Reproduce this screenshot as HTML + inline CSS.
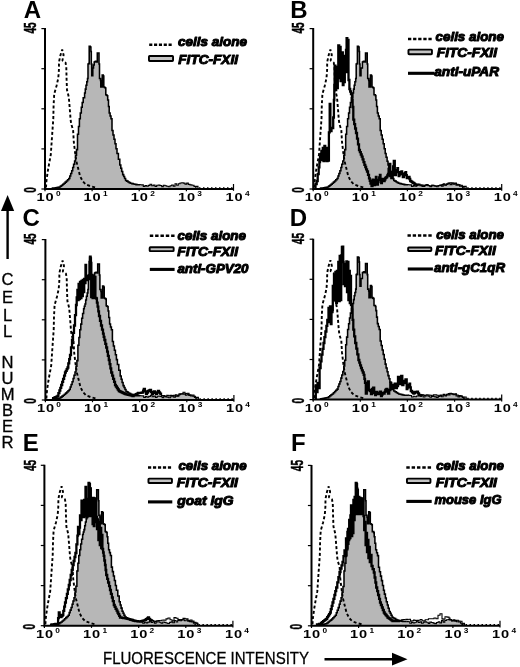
<!DOCTYPE html>
<html lang="en"><head><meta charset="utf-8"><title>Flow cytometry histograms of FITC-FXII binding</title>
<style>
html,body{margin:0;padding:0;background:#fff;}
body{width:520px;height:667px;overflow:hidden;}
svg{display:block;}
text{font-family:"Liberation Sans", sans-serif;fill:#000;}
.leg{font-weight:bold;font-style:italic;font-size:12.8px;stroke:#000;stroke-width:1.0px;stroke-linejoin:round;}
.pl{font-weight:bold;font-size:24px;}
.tk{font-weight:bold;font-size:10.3px;letter-spacing:0.6px;}
.ex{font-weight:bold;font-size:6.4px;}
.yl{font-weight:bold;font-size:16px;stroke:#000;stroke-width:0.5px;}
.ax{font-size:16.6px;stroke:#000;stroke-width:0.3px;}
.thin{fill:none;stroke:#000;stroke-width:1.55;stroke-linejoin:miter;}
.thick{fill:none;stroke:#000;stroke-width:2.3;stroke-linejoin:miter;}
.tail{fill:none;stroke:#000;stroke-width:1.1;}
.dash{fill:none;stroke:#000;stroke-width:1.9;stroke-dasharray:3 2.3;stroke-linejoin:bevel;}
.axis{fill:none;stroke:#000;stroke-width:2;}
.tick{fill:none;stroke:#000;stroke-width:1.2;}
</style></head><body>
<svg width="520" height="667" viewBox="0 0 520 667">
<rect x="0" y="0" width="520" height="667" fill="#ffffff"/>
<g id="panel-A">
<polygon points="51.5,189.0 51.5,188.3 52.8,188.3 52.8,188.1 54.1,188.1 54.1,187.9 55.4,187.9 55.4,187.7 56.6,187.7 56.6,187.4 57.9,187.4 57.9,187.2 59.2,187.2 59.2,187.0 60.4,187.0 60.4,186.1 61.6,186.1 61.6,185.2 62.8,185.2 62.8,184.2 64.0,184.2 64.0,183.3 65.2,183.3 65.2,182.1 66.4,182.1 66.4,180.9 67.6,180.9 67.6,179.7 68.8,179.7 68.8,178.5 69.8,178.5 69.8,175.9 70.7,175.9 70.7,173.4 71.7,173.4 71.7,170.8 72.7,170.8 72.7,167.5 73.6,167.5 73.6,164.3 74.6,164.3 74.6,161.0 75.5,161.0 75.5,155.3 76.5,155.3 76.5,149.6 77.5,149.6 77.5,134.2 78.5,134.2 78.5,126.5 79.4,126.5 79.4,118.8 80.3,118.8 80.3,113.0 81.3,113.0 81.3,107.3 82.2,107.3 82.2,102.5 83.2,102.5 83.2,97.7 84.6,97.7 84.6,92.9 85.3,92.9 85.3,89.1 86.0,89.1 86.0,85.2 86.8,85.2 86.8,81.8 87.5,81.8 87.5,78.5 88.0,78.5 88.0,64.0 88.8,64.0 88.8,63.5 89.2,63.5 89.2,46.3 90.2,46.3 90.2,47.0 90.9,47.0 90.9,51.5 91.3,51.5 91.3,64.0 91.8,64.0 91.8,75.6 92.4,75.6 92.4,75.6 92.8,75.6 92.8,67.9 93.5,67.9 93.5,65.0 94.2,65.0 94.2,62.0 95.0,62.0 95.0,61.6 95.7,61.6 95.7,61.2 96.8,61.2 96.8,62.0 97.3,62.0 97.3,53.0 98.3,53.0 98.3,53.0 99.0,53.0 99.0,64.0 99.5,64.0 99.5,78.5 100.5,78.5 100.5,80.4 100.8,80.4 100.8,87.0 101.6,87.0 101.6,87.0 102.2,87.0 102.2,75.0 103.2,75.0 103.2,76.0 103.8,76.0 103.8,87.0 104.5,87.0 104.5,87.5 105.3,87.5 105.3,88.0 105.8,88.0 105.8,94.8 106.5,94.8 106.5,95.3 107.2,95.3 107.2,95.8 107.7,95.8 107.7,100.0 108.5,100.0 108.5,106.5 109.2,106.5 109.2,113.0 110.1,113.0 110.1,115.9 111.0,115.9 111.0,118.8 112.0,118.8 112.0,130.4 113.0,130.4 113.0,134.9 114.0,134.9 114.0,139.3 115.0,139.3 115.0,143.8 116.0,143.8 116.0,148.7 117.0,148.7 117.0,153.5 118.4,153.5 118.4,159.2 119.8,159.2 119.8,165.0 120.8,165.0 120.8,168.2 121.7,168.2 121.7,171.4 122.7,171.4 122.7,174.6 123.7,174.6 123.7,176.5 124.6,176.5 124.6,178.5 125.6,178.5 125.6,180.4 126.8,180.4 126.8,181.1 128.0,181.1 128.0,181.9 129.2,181.9 129.2,182.6 130.4,182.6 130.4,183.3 131.8,183.3 131.8,183.6 133.2,183.6 133.2,183.9 134.6,183.9 134.6,184.3 136.0,184.3 136.0,184.6 137.3,184.6 137.3,184.7 138.7,184.7 138.7,184.7 140.0,184.7 140.0,184.8 141.7,184.8 141.7,184.9 143.3,184.9 143.3,186.4 145.0,186.4 145.0,185.6 146.7,185.6 146.7,186.2 148.3,186.2 148.3,185.4 150.0,185.4 150.0,184.3 151.7,184.3 151.7,185.7 153.3,185.7 153.3,185.1 155.0,185.1 155.0,186.4 156.7,186.4 156.7,185.3 158.3,185.3 158.3,185.1 160.0,185.1 160.0,185.5 161.7,185.5 161.7,186.6 163.3,186.6 163.3,185.3 165.0,185.3 165.0,185.7 166.7,185.7 166.7,186.3 168.3,186.3 168.3,186.8 170.0,186.8 170.0,185.7 171.7,185.7 171.7,185.0 173.3,185.0 173.3,186.1 175.0,186.1 175.0,183.8 176.7,183.8 176.7,185.3 178.3,185.3 178.3,183.7 180.0,183.7 180.0,183.0 181.7,183.0 181.7,182.8 183.3,182.8 183.3,183.1 185.0,183.1 185.0,184.1 186.7,184.1 186.7,183.1 188.3,183.1 188.3,184.4 190.0,184.4 190.0,184.9 192.0,184.9 192.0,185.2 194.0,185.2 194.0,186.4 196.0,186.4 196.0,186.4 198.0,186.4 198.0,188.5 198.0,189.0" fill="#b7b7b7" stroke="none"/>
<path class="thin" d="M51.5 188.3 H52.8 V188.1 H54.1 V187.9 H55.4 V187.7 H56.6 V187.4 H57.9 V187.2 H59.2 V187.0 H60.4 V186.1 H61.6 V185.2 H62.8 V184.2 H64.0 V183.3 H65.2 V182.1 H66.4 V180.9 H67.6 V179.7 H68.8 V178.5 H69.8 V175.9 H70.7 V173.4 H71.7 V170.8 H72.7 V167.5 H73.6 V164.3 H74.6 V161.0 H75.5 V155.3 H76.5 V149.6 H77.5 V134.2 H78.5 V126.5 H79.4 V118.8 H80.3 V113.0 H81.3 V107.3 H82.2 V102.5 H83.2 V97.7 H84.6 V92.9 H85.3 V89.1 H86.0 V85.2 H86.8 V81.8 H87.5 V78.5 H88.0 V64.0 H88.8 V63.5 H89.2 V46.3 H90.2 V47.0 H90.9 V51.5 H91.3 V64.0 H91.8 V75.6 H92.4 V75.6 H92.8 V67.9 H93.5 V65.0 H94.2 V62.0 H95.0 V61.6 H95.7 V61.2 H96.8 V62.0 H97.3 V53.0 H98.3 V53.0 H99.0 V64.0 H99.5 V78.5 H100.5 V80.4 H100.8 V87.0 H101.6 V87.0 H102.2 V75.0 H103.2 V76.0 H103.8 V87.0 H104.5 V87.5 H105.3 V88.0 H105.8 V94.8 H106.5 V95.3 H107.2 V95.8 H107.7 V100.0 H108.5 V106.5 H109.2 V113.0 H110.1 V115.9 H111.0 V118.8 H112.0 V130.4 H113.0 V134.9 H114.0 V139.3 H115.0 V143.8 H116.0 V148.7 H117.0 V153.5 H118.4 V159.2 H119.8 V165.0 H120.8 V168.2 H121.7 V171.4 H122.7 V174.6 H123.7 V176.5 H124.6 V178.5 H125.6 V180.4 H126.8 V181.1 H128.0 V181.9 H129.2 V182.6 H130.4 V183.3 H131.8 V183.6 H133.2 V183.9 H134.6 V184.3 H136.0 V184.6 H137.3 V184.7 H138.7 V184.7 H140.0 V184.8"/>
<path class="tail" d="M140.0 184.8 H141.7 V184.9 H143.3 V186.4 H145.0 V185.6 H146.7 V186.2 H148.3 V185.4 H150.0 V184.3 H151.7 V185.7 H153.3 V185.1 H155.0 V186.4 H156.7 V185.3 H158.3 V185.1 H160.0 V185.5 H161.7 V186.6 H163.3 V185.3 H165.0 V185.7 H166.7 V186.3 H168.3 V186.8 H170.0 V185.7 H171.7 V185.0 H173.3 V186.1 H175.0 V183.8 H176.7 V185.3 H178.3 V183.7 H180.0 V183.0 H181.7 V182.8 H183.3 V183.1 H185.0 V184.1 H186.7 V183.1 H188.3 V184.4 H190.0 V184.9 H192.0 V185.2 H194.0 V186.4 H196.0 V186.4 H198.0 V188.5"/>
<polyline class="dash" points="46.0,187.5 46.4,181.3 47.6,172.4 48.9,164.8 50.8,154.6 52.1,135.5 53.3,118.8 53.6,105.4 54.2,94.0 56.5,86.0 58.3,78.0 58.9,70.0 59.0,62.0 60.5,55.0 62.2,49.6 63.6,55.0 62.4,60.5 65.5,62.5 66.3,67.0 66.6,80.0 67.0,90.0 68.8,97.0 69.7,108.0 70.6,119.5 71.2,124.0 73.1,130.0 73.8,141.8 75.0,152.0 76.3,161.0 78.2,168.6 80.1,176.2 82.7,181.3 85.9,184.5 91.0,186.4 96.0,187.7"/>
<path class="axis" d="M45.0 28.1 V189.0 H233.5"/>
<path d="M195.0 188.0 H233.5" stroke="#000" stroke-width="1.6" stroke-dasharray="1.5 2.5" fill="none"/>
<path class="tick" d="M41.4 28.6 H45.0"/>
<path class="tick" d="M41.4 68.7 H45.0"/>
<path class="tick" d="M41.4 108.8 H45.0"/>
<path class="tick" d="M41.4 148.9 H45.0"/>
<path class="tick" d="M41.4 189.0 H45.0"/>
<path class="tick" d="M45.0 189.0 V191.2"/>
<path class="tick" d="M92.1 189.0 V191.2"/>
<path class="tick" d="M139.2 189.0 V191.2"/>
<path class="tick" d="M186.4 189.0 V191.2"/>
<path class="tick" d="M233.5 184.0 V190.8"/>
<text class="tk" transform="translate(45.5 201.0) scale(1.42 1)" text-anchor="middle">10</text>
<text class="ex" transform="translate(55.9 196.3) scale(1.3 1)">0</text>
<text class="tk" transform="translate(92.6 201.0) scale(1.42 1)" text-anchor="middle">10</text>
<text class="ex" transform="translate(103.0 196.3) scale(1.3 1)">1</text>
<text class="tk" transform="translate(139.8 201.0) scale(1.42 1)" text-anchor="middle">10</text>
<text class="ex" transform="translate(150.2 196.3) scale(1.3 1)">2</text>
<text class="tk" transform="translate(186.9 201.0) scale(1.42 1)" text-anchor="middle">10</text>
<text class="ex" transform="translate(197.3 196.3) scale(1.3 1)">3</text>
<text class="tk" transform="translate(234.5 201.0) scale(1.42 1)" text-anchor="middle">10</text>
<text class="ex" transform="translate(244.9 196.3) scale(1.3 1)">4</text>
<text class="yl" transform="translate(35.7 28.0) rotate(-90) scale(0.63 1)" text-anchor="middle">45</text>
<text class="yl" transform="translate(35.7 190.0) rotate(-90) scale(0.63 1)" text-anchor="middle">0</text>
<text class="pl" x="23.7" y="17.8">A</text>
<path d="M149.2 44.8 H171.7" stroke="#000" stroke-width="2.5" stroke-dasharray="3.12 1.72" fill="none"/>
<rect x="148.95" y="56.05" width="24.10" height="5.00" rx="0.7" fill="#c4c4c4" stroke="#000" stroke-width="1.9"/>
<text class="leg" x="178.0" y="46.3" textLength="69.0" lengthAdjust="spacingAndGlyphs">cells alone</text>
<text class="leg" x="178.3" y="63.6" textLength="59.7" lengthAdjust="spacingAndGlyphs">FITC-FXII</text>
</g>
<g id="panel-B">
<polygon points="319.7,189.0 319.7,188.3 321.0,188.3 321.0,188.1 322.3,188.1 322.3,187.9 323.5,187.9 323.5,187.7 324.8,187.7 324.8,187.4 326.1,187.4 326.1,187.2 327.4,187.2 327.4,187.0 328.6,187.0 328.6,186.1 329.8,186.1 329.8,185.2 331.0,185.2 331.0,184.2 332.2,184.2 332.2,183.3 333.4,183.3 333.4,182.1 334.6,182.1 334.6,180.9 335.8,180.9 335.8,179.7 337.0,179.7 337.0,178.5 338.0,178.5 338.0,175.9 338.9,175.9 338.9,173.4 339.9,173.4 339.9,170.8 340.9,170.8 340.9,167.5 341.8,167.5 341.8,164.3 342.8,164.3 342.8,161.0 343.8,161.0 343.8,155.3 344.7,155.3 344.7,149.6 345.7,149.6 345.7,134.2 346.6,134.2 346.6,126.5 347.6,126.5 347.6,118.8 348.6,118.8 348.6,113.0 349.5,113.0 349.5,107.3 350.4,107.3 350.4,102.5 351.4,102.5 351.4,97.7 352.8,97.7 352.8,92.9 353.5,92.9 353.5,89.1 354.2,89.1 354.2,85.2 354.9,85.2 354.9,81.8 355.7,81.8 355.7,78.5 356.2,78.5 356.2,64.0 357.0,64.0 357.0,63.5 357.4,63.5 357.4,46.3 358.4,46.3 358.4,47.0 359.1,47.0 359.1,51.5 359.5,51.5 359.5,64.0 360.0,64.0 360.0,75.6 360.6,75.6 360.6,75.6 361.0,75.6 361.0,67.9 362.4,67.9 362.4,62.0 363.1,62.0 363.1,61.6 363.9,61.6 363.9,61.2 365.0,61.2 365.0,62.0 365.5,62.0 365.5,53.0 366.5,53.0 366.5,53.0 367.2,53.0 367.2,64.0 367.7,64.0 367.7,78.5 368.7,78.5 368.7,80.4 369.0,80.4 369.0,87.0 369.8,87.0 369.8,87.0 370.4,87.0 370.4,75.0 371.4,75.0 371.4,76.0 372.0,76.0 372.0,87.0 372.8,87.0 372.8,87.5 373.5,87.5 373.5,88.0 374.0,88.0 374.0,94.8 375.4,94.8 375.4,95.8 375.9,95.8 375.9,100.0 376.6,100.0 376.6,106.5 377.4,106.5 377.4,113.0 378.3,113.0 378.3,115.9 379.2,115.9 379.2,118.8 380.2,118.8 380.2,130.4 381.2,130.4 381.2,134.9 382.2,134.9 382.2,139.3 383.2,139.3 383.2,143.8 384.2,143.8 384.2,148.7 385.2,148.7 385.2,153.5 386.1,153.5 386.1,157.3 387.1,157.3 387.1,161.2 388.0,161.2 388.0,165.0 389.0,165.0 389.0,168.2 389.9,168.2 389.9,171.4 390.9,171.4 390.9,174.6 391.9,174.6 391.9,176.5 392.8,176.5 392.8,178.5 393.8,178.5 393.8,180.4 395.0,180.4 395.0,181.1 396.2,181.1 396.2,181.9 397.4,181.9 397.4,182.6 398.6,182.6 398.6,183.3 400.0,183.3 400.0,183.6 401.4,183.6 401.4,183.9 402.8,183.9 402.8,184.3 404.2,184.3 404.2,184.6 405.5,184.6 405.5,184.7 406.9,184.7 406.9,184.7 408.2,184.7 408.2,184.8 409.9,184.8 409.9,184.9 411.5,184.9 411.5,186.4 413.2,186.4 413.2,185.6 414.9,185.6 414.9,186.2 416.5,186.2 416.5,185.4 418.2,185.4 418.2,184.3 419.9,184.3 419.9,185.7 421.5,185.7 421.5,185.1 423.2,185.1 423.2,186.4 424.9,186.4 424.9,185.3 426.5,185.3 426.5,185.1 428.2,185.1 428.2,185.5 429.9,185.5 429.9,186.6 431.5,186.6 431.5,185.3 433.2,185.3 433.2,185.7 434.9,185.7 434.9,186.3 436.5,186.3 436.5,186.8 438.2,186.8 438.2,185.7 439.9,185.7 439.9,185.0 441.5,185.0 441.5,186.1 443.2,186.1 443.2,183.8 444.9,183.8 444.9,185.3 446.5,185.3 446.5,183.7 448.2,183.7 448.2,183.0 449.9,183.0 449.9,182.8 451.5,182.8 451.5,183.1 453.2,183.1 453.2,184.1 454.9,184.1 454.9,183.1 456.5,183.1 456.5,184.4 458.2,184.4 458.2,184.9 460.2,184.9 460.2,185.2 462.2,185.2 462.2,186.4 464.2,186.4 464.2,186.4 466.2,186.4 466.2,188.5 466.2,189.0" fill="#b7b7b7" stroke="none"/>
<path class="thin" d="M319.7 188.3 H321.0 V188.1 H322.3 V187.9 H323.5 V187.7 H324.8 V187.4 H326.1 V187.2 H327.4 V187.0 H328.6 V186.1 H329.8 V185.2 H331.0 V184.2 H332.2 V183.3 H333.4 V182.1 H334.6 V180.9 H335.8 V179.7 H337.0 V178.5 H338.0 V175.9 H338.9 V173.4 H339.9 V170.8 H340.9 V167.5 H341.8 V164.3 H342.8 V161.0 H343.8 V155.3 H344.7 V149.6 H345.7 V134.2 H346.6 V126.5 H347.6 V118.8 H348.6 V113.0 H349.5 V107.3 H350.4 V102.5 H351.4 V97.7 H352.8 V92.9 H353.5 V89.1 H354.2 V85.2 H354.9 V81.8 H355.7 V78.5 H356.2 V64.0 H357.0 V63.5 H357.4 V46.3 H358.4 V47.0 H359.1 V51.5 H359.5 V64.0 H360.0 V75.6 H360.6 V75.6 H361.0 V67.9 H362.4 V62.0 H363.1 V61.6 H363.9 V61.2 H365.0 V62.0 H365.5 V53.0 H366.5 V53.0 H367.2 V64.0 H367.7 V78.5 H368.7 V80.4 H369.0 V87.0 H369.8 V87.0 H370.4 V75.0 H371.4 V76.0 H372.0 V87.0 H372.8 V87.5 H373.5 V88.0 H374.0 V94.8 H375.4 V95.8 H375.9 V100.0 H376.6 V106.5 H377.4 V113.0 H378.3 V115.9 H379.2 V118.8 H380.2 V130.4 H381.2 V134.9 H382.2 V139.3 H383.2 V143.8 H384.2 V148.7 H385.2 V153.5 H386.1 V157.3 H387.1 V161.2 H388.0 V165.0 H389.0 V168.2 H389.9 V171.4 H390.9 V174.6 H391.9 V176.5 H392.8 V178.5 H393.8 V180.4 H395.0 V181.1 H396.2 V181.9 H397.4 V182.6 H398.6 V183.3 H400.0 V183.6 H401.4 V183.9 H402.8 V184.3 H404.2 V184.6 H405.5 V184.7 H406.9 V184.7 H408.2 V184.8"/>
<path class="tail" d="M408.2 184.8 H409.9 V184.9 H411.5 V186.4 H413.2 V185.6 H414.9 V186.2 H416.5 V185.4 H418.2 V184.3 H419.9 V185.7 H421.5 V185.1 H423.2 V186.4 H424.9 V185.3 H426.5 V185.1 H428.2 V185.5 H429.9 V186.6 H431.5 V185.3 H433.2 V185.7 H434.9 V186.3 H436.5 V186.8 H438.2 V185.7 H439.9 V185.0 H441.5 V186.1 H443.2 V183.8 H444.9 V185.3 H446.5 V183.7 H448.2 V183.0 H449.9 V182.8 H451.5 V183.1 H453.2 V184.1 H454.9 V183.1 H456.5 V184.4 H458.2 V184.9 H460.2 V185.2 H462.2 V186.4 H464.2 V186.4 H466.2 V188.5"/>
<polyline class="dash" points="314.2,187.5 314.6,181.3 315.8,172.4 317.1,164.8 319.0,154.6 320.3,135.5 321.5,118.8 321.8,105.4 322.4,94.0 324.7,86.0 326.5,78.0 327.1,70.0 327.2,62.0 328.7,55.0 330.4,49.6 331.8,55.0 330.6,60.5 333.7,62.5 334.5,67.0 334.8,80.0 335.2,90.0 337.0,97.0 337.9,108.0 338.8,119.5 339.4,124.0 341.3,130.0 342.0,141.8 343.2,152.0 344.5,161.0 346.4,168.6 348.3,176.2 350.9,181.3 354.1,184.5 359.2,186.4 364.2,187.7"/>
<path class="thick" d="M314.5 188.5 H315.5 V184.0 H316.7 V181.0 H317.7 V174.2 H318.7 V167.4 H319.4 V162.0 H320.0 V156.6 H320.7 V153.8 H321.4 V151.0 H322.0 V160.0 H322.8 V148.0 H323.5 V161.0 H324.4 V145.8 H325.2 V160.0 H326.0 V148.0 H326.8 V161.0 H327.6 V150.0 H328.8 V160.6 H328.9 V132.3 H329.7 V104.0 H330.4 V131.0 H331.5 V128.0 H332.2 V128.0 H333.2 V117.5 H333.9 V100.0 H334.3 V85.0 H334.6 V65.6 H335.4 V90.0 H336.2 V67.0 H337.0 V88.0 H337.8 V70.0 H338.3 V45.3 H339.2 V78.0 H339.9 V47.0 H340.6 V81.0 H341.3 V60.0 H342.0 V52.4 H342.8 V85.0 H343.5 V56.0 H344.1 V82.0 H344.8 V66.0 H345.6 V72.0 H346.0 V50.0 H346.6 V38.1 H347.3 V72.0 H347.9 V40.0 H348.5 V80.0 H349.4 V89.0 H350.2 V91.5 H351.0 V94.0 H352.0 V100.0 H352.6 V107.0 H353.3 V119.6 H354.2 V124.1 H355.1 V128.5 H356.0 V133.0 H357.0 V138.7 H358.0 V144.3 H359.0 V150.0 H359.9 V152.2 H360.8 V154.5 H361.7 V156.7 H362.6 V159.4 H363.5 V162.1 H364.4 V164.8 H365.3 V167.0 H366.1 V169.3 H367.0 V171.5 H368.0 V174.9 H369.0 V178.3 H369.8 V180.9 H370.5 V183.6 H371.5 V186.0 H372.5 V179.6 H373.1 V182.3 H373.8 V185.0 H375.0 V180.0 H375.9 V177.0 H376.5 V180.8 H377.2 V184.5 H377.9 V182.2 H378.5 V180.0 H379.2 V177.5 H379.9 V175.0 H380.5 V179.0 H381.2 V183.0 H381.9 V181.0 H382.5 V179.0 H383.2 V180.0 H384.0 V181.0 H384.6 V179.5 H385.3 V178.0 H386.0 V177.5 H386.6 V177.0 H387.3 V175.5 H388.0 V174.0 H388.6 V169.0 H389.3 V164.0 H390.3 V176.0 H391.3 V178.0 H392.5 V172.0 H393.1 V166.4 H393.8 V160.8 H394.8 V175.0 H396.0 V172.0 H396.7 V170.1 H397.4 V168.2 H398.0 V172.1 H398.7 V176.0 H399.4 V174.5 H400.0 V173.0 H400.7 V172.2 H401.4 V171.5 H402.1 V174.2 H402.8 V177.0 H404.0 V174.0 H404.8 V173.1 H405.5 V172.2 H406.1 V175.1 H406.8 V178.0 H407.8 V177.5 H408.8 V177.0 H409.5 V179.0 H410.2 V181.0 H411.2 V181.7 H412.2 V182.3 H413.1 V183.0 H414.1 V183.6 H415.0 V184.3 H416.0 V184.6 H417.0 V185.0 H418.0 V185.3"/>
<path class="tail" d="M418.0 184.4 H420.0 V185.1 H422.0 V186.4 H424.0 V185.4 H426.0 V184.6 H428.0 V185.8 H430.0 V186.2 H432.0 V185.3 H434.0 V185.8 H436.0 V186.0 H438.0 V185.5 H440.0 V185.4 H442.0 V184.6 H444.0 V185.0 H446.0 V184.5 H448.0 V183.4 H450.0 V184.6 H452.0 V183.0 H454.0 V183.8 H456.0 V185.3 H458.0 V184.8 H459.5 V186.2 H461.0 V186.1 H462.5 V188.1 H464.0 V188.5"/>
<path class="axis" d="M313.2 28.1 V189.0 H501.7"/>
<path d="M463.2 188.0 H501.7" stroke="#000" stroke-width="1.6" stroke-dasharray="1.5 2.5" fill="none"/>
<path class="tick" d="M309.6 28.6 H313.2"/>
<path class="tick" d="M309.6 68.7 H313.2"/>
<path class="tick" d="M309.6 108.8 H313.2"/>
<path class="tick" d="M309.6 148.9 H313.2"/>
<path class="tick" d="M309.6 189.0 H313.2"/>
<path class="tick" d="M313.2 189.0 V191.2"/>
<path class="tick" d="M360.3 189.0 V191.2"/>
<path class="tick" d="M407.4 189.0 V191.2"/>
<path class="tick" d="M454.6 189.0 V191.2"/>
<path class="tick" d="M501.7 184.0 V190.8"/>
<text class="tk" transform="translate(313.7 201.0) scale(1.42 1)" text-anchor="middle">10</text>
<text class="ex" transform="translate(324.1 196.3) scale(1.3 1)">0</text>
<text class="tk" transform="translate(360.8 201.0) scale(1.42 1)" text-anchor="middle">10</text>
<text class="ex" transform="translate(371.2 196.3) scale(1.3 1)">1</text>
<text class="tk" transform="translate(407.9 201.0) scale(1.42 1)" text-anchor="middle">10</text>
<text class="ex" transform="translate(418.3 196.3) scale(1.3 1)">2</text>
<text class="tk" transform="translate(455.1 201.0) scale(1.42 1)" text-anchor="middle">10</text>
<text class="ex" transform="translate(465.5 196.3) scale(1.3 1)">3</text>
<text class="tk" transform="translate(502.7 201.0) scale(1.42 1)" text-anchor="middle">10</text>
<text class="ex" transform="translate(513.1 196.3) scale(1.3 1)">4</text>
<text class="yl" transform="translate(303.9 28.0) rotate(-90) scale(0.63 1)" text-anchor="middle">45</text>
<text class="yl" transform="translate(303.9 190.0) rotate(-90) scale(0.63 1)" text-anchor="middle">0</text>
<text class="pl" x="290.3" y="17.8">B</text>
<path d="M408.0 39.1 H431.7" stroke="#000" stroke-width="2.5" stroke-dasharray="3.29 1.81" fill="none"/>
<rect x="408.45" y="49.65" width="23.50" height="4.60" rx="0.7" fill="#c4c4c4" stroke="#000" stroke-width="1.9"/>
<path d="M408.0 73.3 H434.6" stroke="#000" stroke-width="3.1" fill="none"/>
<text class="leg" x="435.6" y="41.0" textLength="68.3" lengthAdjust="spacingAndGlyphs">cells alone</text>
<text class="leg" x="436.8" y="57.3" textLength="60.2" lengthAdjust="spacingAndGlyphs">FITC-FXII</text>
<text class="leg" x="434.3" y="76.0" textLength="64.7" lengthAdjust="spacingAndGlyphs">anti-uPAR</text>
</g>
<g id="panel-C">
<polygon points="51.9,400.0 51.9,399.3 53.2,399.3 53.2,399.1 54.5,399.1 54.5,398.9 55.8,398.9 55.8,398.6 57.0,398.6 57.0,398.4 58.3,398.4 58.3,398.2 59.6,398.2 59.6,398.0 60.8,398.0 60.8,397.1 62.0,397.1 62.0,396.1 63.2,396.1 63.2,395.2 64.4,395.2 64.4,394.3 65.6,394.3 65.6,393.1 66.8,393.1 66.8,391.9 68.0,391.9 68.0,390.7 69.2,390.7 69.2,389.5 70.2,389.5 70.2,386.9 71.1,386.9 71.1,384.4 72.1,384.4 72.1,381.8 73.1,381.8 73.1,378.5 74.0,378.5 74.0,375.3 75.0,375.3 75.0,372.0 76.0,372.0 76.0,366.3 76.9,366.3 76.9,360.6 77.9,360.6 77.9,345.2 78.9,345.2 78.9,337.5 79.8,337.5 79.8,329.8 80.8,329.8 80.8,324.1 81.7,324.1 81.7,318.3 82.6,318.3 82.6,313.5 83.6,313.5 83.6,308.7 84.3,308.7 84.3,306.3 85.0,306.3 85.0,303.9 85.7,303.9 85.7,300.0 86.4,300.0 86.4,296.2 87.2,296.2 87.2,292.9 87.9,292.9 87.9,289.5 88.4,289.5 88.4,275.0 89.2,275.0 89.2,274.5 89.6,274.5 89.6,257.3 90.6,257.3 90.6,258.0 91.3,258.0 91.3,262.5 91.7,262.5 91.7,275.0 92.2,275.0 92.2,286.6 92.8,286.6 92.8,286.6 93.2,286.6 93.2,278.9 93.9,278.9 93.9,275.9 94.6,275.9 94.6,273.0 95.3,273.0 95.3,272.6 96.1,272.6 96.1,272.2 97.2,272.2 97.2,273.0 97.7,273.0 97.7,264.0 98.7,264.0 98.7,264.0 99.4,264.0 99.4,275.0 99.9,275.0 99.9,289.5 100.9,289.5 100.9,291.4 101.2,291.4 101.2,298.0 102.0,298.0 102.0,298.0 102.6,298.0 102.6,286.0 103.6,286.0 103.6,287.0 104.2,287.0 104.2,298.0 104.9,298.0 104.9,298.5 105.7,298.5 105.7,299.0 106.2,299.0 106.2,305.8 106.9,305.8 106.9,306.3 107.6,306.3 107.6,306.8 108.1,306.8 108.1,311.0 108.8,311.0 108.8,317.5 109.6,317.5 109.6,324.0 110.5,324.0 110.5,326.9 111.4,326.9 111.4,329.8 112.4,329.8 112.4,341.4 113.4,341.4 113.4,345.9 114.4,345.9 114.4,350.3 115.4,350.3 115.4,354.8 116.4,354.8 116.4,359.6 117.4,359.6 117.4,364.5 118.8,364.5 118.8,370.2 120.2,370.2 120.2,376.0 121.2,376.0 121.2,379.2 122.1,379.2 122.1,382.4 123.1,382.4 123.1,385.6 124.1,385.6 124.1,387.5 125.0,387.5 125.0,389.5 126.0,389.5 126.0,391.4 127.2,391.4 127.2,392.1 128.4,392.1 128.4,392.9 129.6,392.9 129.6,393.6 130.8,393.6 130.8,394.3 132.2,394.3 132.2,394.6 133.6,394.6 133.6,395.0 135.0,395.0 135.0,395.3 136.4,395.3 136.4,395.6 137.7,395.6 137.7,395.7 139.1,395.7 139.1,395.7 140.4,395.7 140.4,395.8 142.1,395.8 142.1,395.9 143.7,395.9 143.7,397.4 145.4,397.4 145.4,396.6 147.1,396.6 147.1,397.2 148.7,397.2 148.7,396.4 150.4,396.4 150.4,395.3 152.1,395.3 152.1,396.7 153.7,396.7 153.7,396.1 155.4,396.1 155.4,397.4 157.1,397.4 157.1,396.3 158.7,396.3 158.7,396.1 160.4,396.1 160.4,396.5 162.1,396.5 162.1,397.6 163.7,397.6 163.7,396.3 165.4,396.3 165.4,396.7 167.1,396.7 167.1,397.3 168.7,397.3 168.7,397.8 170.4,397.8 170.4,396.7 172.1,396.7 172.1,396.0 173.7,396.0 173.7,397.1 175.4,397.1 175.4,394.8 177.1,394.8 177.1,396.3 178.7,396.3 178.7,394.7 180.4,394.7 180.4,394.0 182.1,394.0 182.1,393.8 183.7,393.8 183.7,394.1 185.4,394.1 185.4,395.1 187.1,395.1 187.1,394.1 188.7,394.1 188.7,395.4 190.4,395.4 190.4,395.9 192.4,395.9 192.4,396.2 194.4,396.2 194.4,397.4 196.4,397.4 196.4,397.4 198.4,397.4 198.4,399.5 198.4,400.0" fill="#b7b7b7" stroke="none"/>
<path class="thin" d="M51.9 399.3 H53.2 V399.1 H54.5 V398.9 H55.8 V398.6 H57.0 V398.4 H58.3 V398.2 H59.6 V398.0 H60.8 V397.1 H62.0 V396.1 H63.2 V395.2 H64.4 V394.3 H65.6 V393.1 H66.8 V391.9 H68.0 V390.7 H69.2 V389.5 H70.2 V386.9 H71.1 V384.4 H72.1 V381.8 H73.1 V378.5 H74.0 V375.3 H75.0 V372.0 H76.0 V366.3 H76.9 V360.6 H77.9 V345.2 H78.9 V337.5 H79.8 V329.8 H80.8 V324.1 H81.7 V318.3 H82.6 V313.5 H83.6 V308.7 H84.3 V306.3 H85.0 V303.9 H85.7 V300.0 H86.4 V296.2 H87.2 V292.9 H87.9 V289.5 H88.4 V275.0 H89.2 V274.5 H89.6 V257.3 H90.6 V258.0 H91.3 V262.5 H91.7 V275.0 H92.2 V286.6 H92.8 V286.6 H93.2 V278.9 H93.9 V275.9 H94.6 V273.0 H95.3 V272.6 H96.1 V272.2 H97.2 V273.0 H97.7 V264.0 H98.7 V264.0 H99.4 V275.0 H99.9 V289.5 H100.9 V291.4 H101.2 V298.0 H102.0 V298.0 H102.6 V286.0 H103.6 V287.0 H104.2 V298.0 H104.9 V298.5 H105.7 V299.0 H106.2 V305.8 H106.9 V306.3 H107.6 V306.8 H108.1 V311.0 H108.8 V317.5 H109.6 V324.0 H110.5 V326.9 H111.4 V329.8 H112.4 V341.4 H113.4 V345.9 H114.4 V350.3 H115.4 V354.8 H116.4 V359.6 H117.4 V364.5 H118.8 V370.2 H120.2 V376.0 H121.2 V379.2 H122.1 V382.4 H123.1 V385.6 H124.1 V387.5 H125.0 V389.5 H126.0 V391.4 H127.2 V392.1 H128.4 V392.9 H129.6 V393.6 H130.8 V394.3 H132.2 V394.6 H133.6 V395.0 H135.0 V395.3 H136.4 V395.6 H137.7 V395.7 H139.1 V395.7 H140.4 V395.8"/>
<path class="tail" d="M140.4 395.8 H142.1 V395.9 H143.7 V397.4 H145.4 V396.6 H147.1 V397.2 H148.7 V396.4 H150.4 V395.3 H152.1 V396.7 H153.7 V396.1 H155.4 V397.4 H157.1 V396.3 H158.7 V396.1 H160.4 V396.5 H162.1 V397.6 H163.7 V396.3 H165.4 V396.7 H167.1 V397.3 H168.7 V397.8 H170.4 V396.7 H172.1 V396.0 H173.7 V397.1 H175.4 V394.8 H177.1 V396.3 H178.7 V394.7 H180.4 V394.0 H182.1 V393.8 H183.7 V394.1 H185.4 V395.1 H187.1 V394.1 H188.7 V395.4 H190.4 V395.9 H192.4 V396.2 H194.4 V397.4 H196.4 V397.4 H198.4 V399.5"/>
<polyline class="dash" points="46.4,398.5 46.8,392.3 48.0,383.4 49.3,375.8 51.2,365.6 52.5,346.5 53.7,329.8 54.0,316.4 54.6,305.0 56.9,297.0 58.7,289.0 59.3,281.0 59.4,273.0 60.9,266.0 62.6,260.6 64.0,266.0 62.8,271.5 65.9,273.5 66.7,278.0 67.0,291.0 67.4,301.0 69.2,308.0 70.1,319.0 71.0,330.5 71.6,335.0 73.5,341.0 74.2,352.8 75.4,363.0 76.7,372.0 78.6,379.6 80.5,387.2 83.1,392.3 86.3,395.5 91.4,397.4 96.4,398.7"/>
<path class="thick" d="M52.0 398.8 H53.1 V398.2 H54.2 V397.7 H55.3 V397.1 H56.4 V396.6 H57.5 V396.0 H58.4 V393.2 H59.4 V390.5 H60.3 V387.8 H61.2 V385.0 H62.2 V381.9 H63.1 V378.8 H64.1 V375.6 H65.0 V372.5 H65.8 V370.8 H66.7 V369.2 H67.5 V367.5 H68.3 V363.3 H69.2 V359.2 H70.0 V355.0 H71.0 V347.5 H72.0 V340.0 H73.0 V332.8 H74.0 V325.5 H75.0 V315.2 H76.0 V305.0 H76.7 V297.5 H77.4 V290.0 H78.0 V300.0 H78.6 V284.0 H79.3 V299.0 H80.0 V282.0 H80.7 V298.0 H81.4 V281.0 H82.1 V296.0 H82.8 V280.0 H83.5 V292.0 H84.2 V279.0 H84.9 V283.0 H85.5 V264.8 H86.1 V280.0 H86.8 V276.0 H87.5 V279.0 H88.2 V276.0 H88.9 V279.0 H89.5 V262.0 H90.0 V256.7 H90.6 V276.0 H91.2 V297.0 H91.9 V275.0 H92.6 V298.0 H93.3 V276.0 H94.0 V298.0 H94.7 V277.0 H95.4 V298.0 H96.3 V298.5 H96.9 V302.6 H97.6 V306.6 H98.3 V311.3 H99.0 V316.0 H100.0 V320.8 H101.0 V325.5 H102.0 V329.6 H103.0 V333.6 H103.7 V336.8 H104.4 V340.0 H105.3 V343.8 H106.2 V347.5 H107.1 V351.7 H107.9 V355.8 H108.8 V360.0 H109.6 V364.2 H110.4 V368.3 H111.2 V372.5 H112.2 V375.6 H113.1 V378.8 H114.1 V381.9 H115.0 V385.0 H115.9 V386.5 H116.9 V388.0 H117.8 V389.5 H118.8 V391.0 H119.8 V391.5 H120.8 V392.0 H121.9 V392.5 H122.9 V393.0 H124.0 V393.5 H125.0 V394.0 H126.1 V394.3 H127.1 V394.6 H128.2 V394.9 H129.3 V395.1 H130.4 V395.4 H131.4 V395.7 H132.5 V396.0 H133.6 V395.4 H134.7 V394.8 H135.8 V394.2 H136.9 V393.6 H138.0 V393.0 H139.1 V392.9 H140.2 V392.8 H141.4 V392.6 H142.5 V392.5 H143.1 V390.6 H143.8 V388.8 H144.9 V391.4 H146.0 V394.0 H147.0 V392.5 H148.0 V391.0 H149.0 V390.5 H150.0 V390.0 H151.0 V392.0 H152.0 V394.0 H153.0 V392.8 H154.0 V391.5 H155.0 V392.8 H156.0 V394.0 H157.0 V392.5 H158.0 V391.0 H159.0 V392.3 H160.0 V393.7 H161.0 V395.0"/>
<path class="tail" d="M161.0 395.5 H163.0 V395.6 H165.0 V396.8 H166.7 V395.4 H168.3 V395.9 H170.0 V395.4 H171.7 V395.5 H173.3 V395.3 H175.0 V396.2 H177.0 V395.6 H179.0 V393.9 H181.0 V393.9 H183.0 V392.3 H185.0 V393.5 H187.0 V393.3 H189.0 V394.7 H191.0 V395.1 H192.5 V395.1 H194.0 V396.3 H195.5 V398.0 H197.0 V398.8"/>
<path class="axis" d="M45.4 239.1 V400.0 H233.9"/>
<path d="M195.4 399.0 H233.9" stroke="#000" stroke-width="1.6" stroke-dasharray="1.5 2.5" fill="none"/>
<path class="tick" d="M41.8 239.6 H45.4"/>
<path class="tick" d="M41.8 279.7 H45.4"/>
<path class="tick" d="M41.8 319.8 H45.4"/>
<path class="tick" d="M41.8 359.9 H45.4"/>
<path class="tick" d="M41.8 400.0 H45.4"/>
<path class="tick" d="M45.4 400.0 V402.2"/>
<path class="tick" d="M92.5 400.0 V402.2"/>
<path class="tick" d="M139.7 400.0 V402.2"/>
<path class="tick" d="M186.8 400.0 V402.2"/>
<path class="tick" d="M233.9 395.0 V401.8"/>
<text class="tk" transform="translate(45.9 412.0) scale(1.42 1)" text-anchor="middle">10</text>
<text class="ex" transform="translate(56.3 407.3) scale(1.3 1)">0</text>
<text class="tk" transform="translate(93.0 412.0) scale(1.42 1)" text-anchor="middle">10</text>
<text class="ex" transform="translate(103.4 407.3) scale(1.3 1)">1</text>
<text class="tk" transform="translate(140.2 412.0) scale(1.42 1)" text-anchor="middle">10</text>
<text class="ex" transform="translate(150.6 407.3) scale(1.3 1)">2</text>
<text class="tk" transform="translate(187.3 412.0) scale(1.42 1)" text-anchor="middle">10</text>
<text class="ex" transform="translate(197.7 407.3) scale(1.3 1)">3</text>
<text class="tk" transform="translate(234.9 412.0) scale(1.42 1)" text-anchor="middle">10</text>
<text class="ex" transform="translate(245.3 407.3) scale(1.3 1)">4</text>
<text class="yl" transform="translate(36.1 239.0) rotate(-90) scale(0.63 1)" text-anchor="middle">45</text>
<text class="yl" transform="translate(36.1 401.0) rotate(-90) scale(0.63 1)" text-anchor="middle">0</text>
<text class="pl" x="22.4" y="226.2">C</text>
<path d="M149.8 235.8 H174.6" stroke="#000" stroke-width="2.5" stroke-dasharray="3.44 1.89" fill="none"/>
<rect x="149.65" y="247.25" width="24.00" height="3.90" rx="0.7" fill="#c4c4c4" stroke="#000" stroke-width="1.9"/>
<path d="M149.8 269.4 H174.6" stroke="#000" stroke-width="3.1" fill="none"/>
<text class="leg" x="177.5" y="239.6" textLength="68.5" lengthAdjust="spacingAndGlyphs">cells alone</text>
<text class="leg" x="177.3" y="255.8" textLength="60.7" lengthAdjust="spacingAndGlyphs">FITC-FXII</text>
<text class="leg" x="177.4" y="273.3" textLength="71.1" lengthAdjust="spacingAndGlyphs">anti-GPV20</text>
</g>
<g id="panel-D">
<polygon points="319.7,399.6 319.7,398.9 321.0,398.9 321.0,398.7 322.3,398.7 322.3,398.5 323.5,398.5 323.5,398.2 324.8,398.2 324.8,398.0 326.1,398.0 326.1,397.8 327.4,397.8 327.4,397.6 328.6,397.6 328.6,396.7 329.8,396.7 329.8,395.8 331.0,395.8 331.0,394.8 332.2,394.8 332.2,393.9 333.4,393.9 333.4,392.7 334.6,392.7 334.6,391.5 335.8,391.5 335.8,390.3 337.0,390.3 337.0,389.1 338.0,389.1 338.0,386.5 338.9,386.5 338.9,384.0 339.9,384.0 339.9,381.4 340.9,381.4 340.9,378.1 341.8,378.1 341.8,374.9 342.8,374.9 342.8,371.6 343.8,371.6 343.8,365.9 344.7,365.9 344.7,360.2 345.7,360.2 345.7,344.8 346.6,344.8 346.6,337.1 347.6,337.1 347.6,329.4 348.6,329.4 348.6,323.7 349.5,323.7 349.5,317.9 350.4,317.9 350.4,313.1 351.4,313.1 351.4,308.3 352.8,308.3 352.8,303.5 353.5,303.5 353.5,299.6 354.2,299.6 354.2,295.8 354.9,295.8 354.9,292.5 355.7,292.5 355.7,289.1 356.2,289.1 356.2,274.6 357.0,274.6 357.0,274.1 357.4,274.1 357.4,256.9 358.4,256.9 358.4,257.6 359.1,257.6 359.1,262.1 359.5,262.1 359.5,274.6 360.0,274.6 360.0,286.2 360.6,286.2 360.6,286.2 361.0,286.2 361.0,278.5 362.4,278.5 362.4,272.6 363.1,272.6 363.1,272.2 363.9,272.2 363.9,271.8 365.0,271.8 365.0,272.6 365.5,272.6 365.5,263.6 366.5,263.6 366.5,263.6 367.2,263.6 367.2,274.6 367.7,274.6 367.7,289.1 368.7,289.1 368.7,291.0 369.0,291.0 369.0,297.6 369.8,297.6 369.8,297.6 370.4,297.6 370.4,285.6 371.4,285.6 371.4,286.6 372.0,286.6 372.0,297.6 372.8,297.6 372.8,298.1 373.5,298.1 373.5,298.6 374.0,298.6 374.0,305.4 375.4,305.4 375.4,306.4 375.9,306.4 375.9,310.6 376.6,310.6 376.6,317.1 377.4,317.1 377.4,323.6 378.3,323.6 378.3,326.5 379.2,326.5 379.2,329.4 380.2,329.4 380.2,341.0 381.2,341.0 381.2,345.5 382.2,345.5 382.2,349.9 383.2,349.9 383.2,354.4 384.2,354.4 384.2,359.2 385.2,359.2 385.2,364.1 386.1,364.1 386.1,367.9 387.1,367.9 387.1,371.8 388.0,371.8 388.0,375.6 389.0,375.6 389.0,378.8 389.9,378.8 389.9,382.0 390.9,382.0 390.9,385.2 391.9,385.2 391.9,387.1 392.8,387.1 392.8,389.1 393.8,389.1 393.8,391.0 395.0,391.0 395.0,391.7 396.2,391.7 396.2,392.5 397.4,392.5 397.4,393.2 398.6,393.2 398.6,393.9 400.0,393.9 400.0,394.2 401.4,394.2 401.4,394.6 402.8,394.6 402.8,394.9 404.2,394.9 404.2,395.2 405.5,395.2 405.5,395.3 406.9,395.3 406.9,395.3 408.2,395.3 408.2,395.4 409.9,395.4 409.9,395.5 411.5,395.5 411.5,397.0 413.2,397.0 413.2,396.2 414.9,396.2 414.9,396.8 416.5,396.8 416.5,396.0 418.2,396.0 418.2,394.9 419.9,394.9 419.9,396.3 421.5,396.3 421.5,395.7 423.2,395.7 423.2,397.0 424.9,397.0 424.9,395.9 426.5,395.9 426.5,395.7 428.2,395.7 428.2,396.1 429.9,396.1 429.9,397.2 431.5,397.2 431.5,395.9 433.2,395.9 433.2,396.3 434.9,396.3 434.9,396.9 436.5,396.9 436.5,397.4 438.2,397.4 438.2,396.3 439.9,396.3 439.9,395.6 441.5,395.6 441.5,396.7 443.2,396.7 443.2,394.4 444.9,394.4 444.9,395.9 446.5,395.9 446.5,394.3 448.2,394.3 448.2,393.6 449.9,393.6 449.9,393.4 451.5,393.4 451.5,393.7 453.2,393.7 453.2,394.7 454.9,394.7 454.9,393.7 456.5,393.7 456.5,395.0 458.2,395.0 458.2,395.5 460.2,395.5 460.2,395.8 462.2,395.8 462.2,397.0 464.2,397.0 464.2,397.0 466.2,397.0 466.2,399.1 466.2,399.6" fill="#b7b7b7" stroke="none"/>
<path class="thin" d="M319.7 398.9 H321.0 V398.7 H322.3 V398.5 H323.5 V398.2 H324.8 V398.0 H326.1 V397.8 H327.4 V397.6 H328.6 V396.7 H329.8 V395.8 H331.0 V394.8 H332.2 V393.9 H333.4 V392.7 H334.6 V391.5 H335.8 V390.3 H337.0 V389.1 H338.0 V386.5 H338.9 V384.0 H339.9 V381.4 H340.9 V378.1 H341.8 V374.9 H342.8 V371.6 H343.8 V365.9 H344.7 V360.2 H345.7 V344.8 H346.6 V337.1 H347.6 V329.4 H348.6 V323.7 H349.5 V317.9 H350.4 V313.1 H351.4 V308.3 H352.8 V303.5 H353.5 V299.6 H354.2 V295.8 H354.9 V292.5 H355.7 V289.1 H356.2 V274.6 H357.0 V274.1 H357.4 V256.9 H358.4 V257.6 H359.1 V262.1 H359.5 V274.6 H360.0 V286.2 H360.6 V286.2 H361.0 V278.5 H362.4 V272.6 H363.1 V272.2 H363.9 V271.8 H365.0 V272.6 H365.5 V263.6 H366.5 V263.6 H367.2 V274.6 H367.7 V289.1 H368.7 V291.0 H369.0 V297.6 H369.8 V297.6 H370.4 V285.6 H371.4 V286.6 H372.0 V297.6 H372.8 V298.1 H373.5 V298.6 H374.0 V305.4 H375.4 V306.4 H375.9 V310.6 H376.6 V317.1 H377.4 V323.6 H378.3 V326.5 H379.2 V329.4 H380.2 V341.0 H381.2 V345.5 H382.2 V349.9 H383.2 V354.4 H384.2 V359.2 H385.2 V364.1 H386.1 V367.9 H387.1 V371.8 H388.0 V375.6 H389.0 V378.8 H389.9 V382.0 H390.9 V385.2 H391.9 V387.1 H392.8 V389.1 H393.8 V391.0 H395.0 V391.7 H396.2 V392.5 H397.4 V393.2 H398.6 V393.9 H400.0 V394.2 H401.4 V394.6 H402.8 V394.9 H404.2 V395.2 H405.5 V395.3 H406.9 V395.3 H408.2 V395.4"/>
<path class="tail" d="M408.2 395.4 H409.9 V395.5 H411.5 V397.0 H413.2 V396.2 H414.9 V396.8 H416.5 V396.0 H418.2 V394.9 H419.9 V396.3 H421.5 V395.7 H423.2 V397.0 H424.9 V395.9 H426.5 V395.7 H428.2 V396.1 H429.9 V397.2 H431.5 V395.9 H433.2 V396.3 H434.9 V396.9 H436.5 V397.4 H438.2 V396.3 H439.9 V395.6 H441.5 V396.7 H443.2 V394.4 H444.9 V395.9 H446.5 V394.3 H448.2 V393.6 H449.9 V393.4 H451.5 V393.7 H453.2 V394.7 H454.9 V393.7 H456.5 V395.0 H458.2 V395.5 H460.2 V395.8 H462.2 V397.0 H464.2 V397.0 H466.2 V399.1"/>
<polyline class="dash" points="314.2,398.1 314.6,391.9 315.8,383.0 317.1,375.4 319.0,365.2 320.3,346.1 321.5,329.4 321.8,316.0 322.4,304.6 324.7,296.6 326.5,288.6 327.1,280.6 327.2,272.6 328.7,265.6 330.4,260.2 331.8,265.6 330.6,271.1 333.7,273.1 334.5,277.6 334.8,290.6 335.2,300.6 337.0,307.6 337.9,318.6 338.8,330.1 339.4,334.6 341.3,340.6 342.0,352.4 343.2,362.6 344.5,371.6 346.4,379.2 348.3,386.8 350.9,391.9 354.1,395.1 359.2,397.0 364.2,398.3"/>
<path class="thick" d="M314.8 398.0 H315.8 V385.4 H316.6 V392.0 H317.5 V383.0 H318.5 V388.0 H319.6 V368.0 H320.6 V361.3 H321.5 V354.6 H322.5 V348.8 H323.5 V343.0 H324.4 V337.2 H325.4 V331.5 H326.4 V325.8 H327.3 V320.0 H328.5 V308.0 H329.3 V322.0 H330.0 V306.5 H330.8 V324.0 H331.5 V312.0 H332.5 V310.0 H332.8 V286.0 H333.4 V300.0 H334.0 V275.0 H334.8 V296.0 H335.4 V272.0 H336.2 V303.0 H336.9 V271.0 H337.6 V286.0 H338.3 V262.0 H339.0 V301.0 H339.7 V256.0 H340.5 V300.0 H341.2 V255.5 H341.9 V247.0 H342.6 V246.6 H343.2 V262.0 H343.6 V284.0 H344.3 V268.0 H345.0 V286.0 H345.6 V264.0 H346.4 V261.4 H347.0 V292.0 H347.6 V262.0 H348.4 V300.0 H349.0 V271.0 H349.8 V303.0 H350.5 V276.0 H351.0 V305.0 H352.0 V310.0 H352.6 V319.8 H353.3 V329.6 H354.2 V336.3 H355.2 V343.0 H356.3 V348.7 H357.3 V354.3 H358.4 V360.0 H359.3 V362.7 H360.1 V365.3 H361.0 V368.0 H361.9 V370.3 H362.8 V372.5 H363.7 V374.8 H364.4 V378.9 H365.0 V382.9 H365.8 V393.6 H366.8 V384.0 H367.8 V381.5 H368.8 V390.0 H369.8 V391.0 H371.0 V394.0 H372.0 V389.0 H373.2 V387.6 H374.2 V393.0 H375.2 V395.0 H375.9 V393.5 H376.5 V392.0 H377.1 V393.0 H377.8 V394.0 H378.9 V392.8 H379.9 V391.6 H381.0 V396.0 H381.8 V394.5 H382.5 V393.0 H383.2 V393.2 H384.0 V393.5 H384.6 V391.8 H385.3 V390.0 H386.0 V389.5 H386.6 V389.0 H387.3 V391.3 H388.0 V393.6 H389.2 V390.0 H390.3 V383.0 H391.3 V389.0 H392.5 V388.0 H393.6 V385.0 H394.7 V383.6 H395.8 V388.0 H396.9 V386.0 H398.0 V376.8 H399.0 V384.0 H400.0 V382.0 H401.2 V375.9 H402.3 V385.0 H403.4 V383.0 H404.5 V381.0 H405.5 V379.5 H406.7 V389.0 H407.4 V387.5 H408.0 V386.0 H408.8 V384.8 H409.5 V383.6 H410.1 V387.3 H410.8 V391.0 H412.0 V392.0 H412.8 V392.8 H413.5 V393.6 H414.4 V392.8 H415.2 V392.0 H416.1 V391.8 H417.0 V391.6 H418.0 V393.3 H419.0 V395.0 H420.1 V395.2 H421.2 V395.5 H422.3 V395.7"/>
<path class="tail" d="M422.3 394.7 H424.1 V395.5 H426.0 V394.8 H428.0 V395.1 H430.0 V395.3 H431.7 V396.5 H433.3 V394.9 H435.0 V394.9 H436.7 V395.3 H438.3 V396.4 H440.0 V395.0 H441.7 V395.2 H443.3 V395.0 H445.0 V395.2 H446.7 V394.9 H448.3 V394.9 H450.0 V393.6 H452.0 V394.1 H454.0 V394.2 H456.0 V396.0 H458.0 V396.9 H459.5 V396.0 H461.0 V396.7 H462.5 V397.4 H464.0 V398.6"/>
<path class="axis" d="M313.2 238.7 V399.6 H501.7"/>
<path d="M463.2 398.6 H501.7" stroke="#000" stroke-width="1.6" stroke-dasharray="1.5 2.5" fill="none"/>
<path class="tick" d="M309.6 239.2 H313.2"/>
<path class="tick" d="M309.6 279.3 H313.2"/>
<path class="tick" d="M309.6 319.4 H313.2"/>
<path class="tick" d="M309.6 359.5 H313.2"/>
<path class="tick" d="M309.6 399.6 H313.2"/>
<path class="tick" d="M313.2 399.6 V401.8"/>
<path class="tick" d="M360.3 399.6 V401.8"/>
<path class="tick" d="M407.4 399.6 V401.8"/>
<path class="tick" d="M454.6 399.6 V401.8"/>
<path class="tick" d="M501.7 394.6 V401.4"/>
<text class="tk" transform="translate(313.7 411.6) scale(1.42 1)" text-anchor="middle">10</text>
<text class="ex" transform="translate(324.1 406.9) scale(1.3 1)">0</text>
<text class="tk" transform="translate(360.8 411.6) scale(1.42 1)" text-anchor="middle">10</text>
<text class="ex" transform="translate(371.2 406.9) scale(1.3 1)">1</text>
<text class="tk" transform="translate(407.9 411.6) scale(1.42 1)" text-anchor="middle">10</text>
<text class="ex" transform="translate(418.3 406.9) scale(1.3 1)">2</text>
<text class="tk" transform="translate(455.1 411.6) scale(1.42 1)" text-anchor="middle">10</text>
<text class="ex" transform="translate(465.5 406.9) scale(1.3 1)">3</text>
<text class="tk" transform="translate(502.7 411.6) scale(1.42 1)" text-anchor="middle">10</text>
<text class="ex" transform="translate(513.1 406.9) scale(1.3 1)">4</text>
<text class="yl" transform="translate(303.9 238.6) rotate(-90) scale(0.63 1)" text-anchor="middle">45</text>
<text class="yl" transform="translate(303.9 400.6) rotate(-90) scale(0.63 1)" text-anchor="middle">0</text>
<text class="pl" x="289.8" y="225.7">D</text>
<path d="M407.5 235.6 H431.7" stroke="#000" stroke-width="2.5" stroke-dasharray="3.36 1.85" fill="none"/>
<rect x="408.15" y="247.45" width="23.20" height="3.50" rx="0.7" fill="#c4c4c4" stroke="#000" stroke-width="1.9"/>
<path d="M407.8 269.0 H432.9" stroke="#000" stroke-width="3.1" fill="none"/>
<text class="leg" x="436.2" y="238.6" textLength="67.7" lengthAdjust="spacingAndGlyphs">cells alone</text>
<text class="leg" x="435.0" y="254.6" textLength="60.8" lengthAdjust="spacingAndGlyphs">FITC-FXII</text>
<text class="leg" x="434.0" y="272.0" textLength="71.0" lengthAdjust="spacingAndGlyphs">anti-gC1qR</text>
</g>
<g id="panel-E">
<polygon points="50.9,625.7 50.9,625.0 52.2,625.0 52.2,624.8 53.5,624.8 53.5,624.6 54.8,624.6 54.8,624.4 56.0,624.4 56.0,624.1 57.3,624.1 57.3,623.9 58.6,623.9 58.6,623.7 59.8,623.7 59.8,622.8 61.0,622.8 61.0,621.9 62.2,621.9 62.2,620.9 63.4,620.9 63.4,620.0 64.6,620.0 64.6,618.8 65.8,618.8 65.8,617.6 67.0,617.6 67.0,616.4 68.2,616.4 68.2,615.2 69.2,615.2 69.2,612.6 70.1,612.6 70.1,610.1 71.1,610.1 71.1,607.5 72.1,607.5 72.1,604.2 73.0,604.2 73.0,601.0 74.0,601.0 74.0,597.7 75.0,597.7 75.0,592.0 75.9,592.0 75.9,586.3 76.9,586.3 76.9,570.9 77.9,570.9 77.9,563.2 78.8,563.2 78.8,555.5 79.8,555.5 79.8,549.8 80.7,549.8 80.7,544.0 81.6,544.0 81.6,539.2 82.6,539.2 82.6,534.4 83.3,534.4 83.3,532.0 84.0,532.0 84.0,529.6 84.7,529.6 84.7,525.8 85.4,525.8 85.4,521.9 86.2,521.9 86.2,518.6 86.9,518.6 86.9,515.2 87.4,515.2 87.4,500.7 88.2,500.7 88.2,500.2 88.6,500.2 88.6,483.0 89.6,483.0 89.6,483.7 90.3,483.7 90.3,488.2 90.7,488.2 90.7,500.7 91.2,500.7 91.2,512.3 91.8,512.3 91.8,512.3 92.2,512.3 92.2,504.6 92.9,504.6 92.9,501.7 93.6,501.7 93.6,498.7 94.3,498.7 94.3,498.3 95.1,498.3 95.1,497.9 96.2,497.9 96.2,498.7 96.7,498.7 96.7,489.7 97.7,489.7 97.7,489.7 98.4,489.7 98.4,500.7 98.9,500.7 98.9,515.2 99.9,515.2 99.9,517.1 100.2,517.1 100.2,523.7 101.0,523.7 101.0,523.7 101.6,523.7 101.6,511.7 102.6,511.7 102.6,512.7 103.2,512.7 103.2,523.7 103.9,523.7 103.9,524.2 104.7,524.2 104.7,524.7 105.2,524.7 105.2,531.5 105.9,531.5 105.9,532.0 106.6,532.0 106.6,532.5 107.1,532.5 107.1,536.7 107.8,536.7 107.8,543.2 108.6,543.2 108.6,549.7 109.5,549.7 109.5,552.6 110.4,552.6 110.4,555.5 111.4,555.5 111.4,567.1 112.4,567.1 112.4,571.6 113.4,571.6 113.4,576.0 114.4,576.0 114.4,580.5 115.4,580.5 115.4,585.4 116.4,585.4 116.4,590.2 117.8,590.2 117.8,596.0 119.2,596.0 119.2,601.7 120.2,601.7 120.2,604.9 121.1,604.9 121.1,608.1 122.1,608.1 122.1,611.3 123.1,611.3 123.1,613.2 124.0,613.2 124.0,615.2 125.0,615.2 125.0,617.1 126.2,617.1 126.2,617.8 127.4,617.8 127.4,618.5 128.6,618.5 128.6,619.3 129.8,619.3 129.8,620.0 131.2,620.0 131.2,620.3 132.6,620.3 132.6,620.7 134.0,620.7 134.0,621.0 135.4,621.0 135.4,621.3 136.7,621.3 136.7,621.4 138.1,621.4 138.1,621.4 139.4,621.4 139.4,621.5 141.1,621.5 141.1,621.6 142.7,621.6 142.7,623.1 144.4,623.1 144.4,622.3 146.1,622.3 146.1,622.9 147.7,622.9 147.7,622.1 149.4,622.1 149.4,621.0 151.1,621.0 151.1,622.4 152.7,622.4 152.7,621.8 154.4,621.8 154.4,623.1 156.1,623.1 156.1,622.0 157.7,622.0 157.7,621.8 159.4,621.8 159.4,622.2 161.1,622.2 161.1,623.3 162.7,623.3 162.7,622.0 164.4,622.0 164.4,622.4 166.1,622.4 166.1,623.0 167.7,623.0 167.7,623.5 169.4,623.5 169.4,622.4 171.1,622.4 171.1,621.7 172.7,621.7 172.7,622.8 174.4,622.8 174.4,620.5 176.1,620.5 176.1,622.0 177.7,622.0 177.7,620.4 179.4,620.4 179.4,619.7 181.1,619.7 181.1,619.5 182.7,619.5 182.7,619.8 184.4,619.8 184.4,620.8 186.1,620.8 186.1,619.8 187.7,619.8 187.7,621.1 189.4,621.1 189.4,621.6 191.4,621.6 191.4,621.9 193.4,621.9 193.4,623.1 195.4,623.1 195.4,623.1 197.4,623.1 197.4,625.2 197.4,625.7" fill="#b7b7b7" stroke="none"/>
<path class="thin" d="M50.9 625.0 H52.2 V624.8 H53.5 V624.6 H54.8 V624.4 H56.0 V624.1 H57.3 V623.9 H58.6 V623.7 H59.8 V622.8 H61.0 V621.9 H62.2 V620.9 H63.4 V620.0 H64.6 V618.8 H65.8 V617.6 H67.0 V616.4 H68.2 V615.2 H69.2 V612.6 H70.1 V610.1 H71.1 V607.5 H72.1 V604.2 H73.0 V601.0 H74.0 V597.7 H75.0 V592.0 H75.9 V586.3 H76.9 V570.9 H77.9 V563.2 H78.8 V555.5 H79.8 V549.8 H80.7 V544.0 H81.6 V539.2 H82.6 V534.4 H83.3 V532.0 H84.0 V529.6 H84.7 V525.8 H85.4 V521.9 H86.2 V518.6 H86.9 V515.2 H87.4 V500.7 H88.2 V500.2 H88.6 V483.0 H89.6 V483.7 H90.3 V488.2 H90.7 V500.7 H91.2 V512.3 H91.8 V512.3 H92.2 V504.6 H92.9 V501.7 H93.6 V498.7 H94.3 V498.3 H95.1 V497.9 H96.2 V498.7 H96.7 V489.7 H97.7 V489.7 H98.4 V500.7 H98.9 V515.2 H99.9 V517.1 H100.2 V523.7 H101.0 V523.7 H101.6 V511.7 H102.6 V512.7 H103.2 V523.7 H103.9 V524.2 H104.7 V524.7 H105.2 V531.5 H105.9 V532.0 H106.6 V532.5 H107.1 V536.7 H107.8 V543.2 H108.6 V549.7 H109.5 V552.6 H110.4 V555.5 H111.4 V567.1 H112.4 V571.6 H113.4 V576.0 H114.4 V580.5 H115.4 V585.4 H116.4 V590.2 H117.8 V596.0 H119.2 V601.7 H120.2 V604.9 H121.1 V608.1 H122.1 V611.3 H123.1 V613.2 H124.0 V615.2 H125.0 V617.1 H126.2 V617.8 H127.4 V618.5 H128.6 V619.3 H129.8 V620.0 H131.2 V620.3 H132.6 V620.7 H134.0 V621.0 H135.4 V621.3 H136.7 V621.4 H138.1 V621.4 H139.4 V621.5"/>
<path class="tail" d="M139.4 621.5 H141.1 V621.6 H142.7 V623.1 H144.4 V622.3 H146.1 V622.9 H147.7 V622.1 H149.4 V621.0 H151.1 V622.4 H152.7 V621.8 H154.4 V623.1 H156.1 V622.0 H157.7 V621.8 H159.4 V622.2 H161.1 V623.3 H162.7 V622.0 H164.4 V622.4 H166.1 V623.0 H167.7 V623.5 H169.4 V622.4 H171.1 V621.7 H172.7 V622.8 H174.4 V620.5 H176.1 V622.0 H177.7 V620.4 H179.4 V619.7 H181.1 V619.5 H182.7 V619.8 H184.4 V620.8 H186.1 V619.8 H187.7 V621.1 H189.4 V621.6 H191.4 V621.9 H193.4 V623.1 H195.4 V623.1 H197.4 V625.2"/>
<polyline class="dash" points="45.4,624.2 45.8,618.0 47.0,609.1 48.3,601.5 50.2,591.3 51.5,572.2 52.7,555.5 53.0,542.1 53.6,530.7 55.9,522.7 57.7,514.7 58.3,506.7 58.4,498.7 59.9,491.7 61.6,486.3 63.0,491.7 61.8,497.2 64.9,499.2 65.7,503.7 66.0,516.7 66.4,526.7 68.2,533.7 69.1,544.7 70.0,556.2 70.6,560.7 72.5,566.7 73.2,578.5 74.4,588.7 75.7,597.7 77.6,605.3 79.5,612.9 82.1,618.0 85.3,621.2 90.4,623.1 95.4,624.4"/>
<path class="thick" d="M50.0 624.8 H51.1 V624.6 H52.1 V624.5 H53.2 V624.4 H54.3 V624.2 H55.4 V624.0 H56.4 V623.9 H57.5 V623.8 H58.1 V618.1 H58.8 V612.5 H59.6 V614.8 H60.5 V617.0 H61.5 V616.0 H62.5 V615.0 H63.3 V610.8 H64.2 V606.7 H65.0 V602.5 H65.9 V598.1 H66.9 V593.8 H67.8 V589.4 H68.8 V585.0 H69.7 V580.0 H70.7 V575.0 H71.7 V570.0 H72.7 V565.0 H73.6 V561.0 H74.5 V557.0 H75.4 V553.0 H76.4 V544.3 H77.4 V535.6 H78.0 V527.0 H78.7 V534.0 H79.4 V527.6 H80.0 V515.4 H80.8 V520.0 H81.5 V500.6 H82.1 V516.0 H82.8 V502.0 H83.5 V517.0 H84.2 V500.0 H84.9 V516.0 H85.5 V487.0 H86.1 V499.0 H86.7 V517.0 H87.4 V499.0 H88.0 V516.0 H88.6 V483.0 H89.2 V499.0 H89.7 V516.0 H90.2 V488.5 H90.8 V499.0 H91.4 V516.0 H92.0 V498.0 H92.6 V524.0 H93.2 V498.0 H93.8 V526.0 H94.4 V499.0 H95.1 V522.0 H95.8 V500.0 H96.3 V516.8 H97.0 V529.0 H97.7 V519.5 H98.4 V540.0 H99.1 V522.0 H99.8 V545.0 H100.5 V528.0 H101.2 V548.0 H101.7 V535.0 H102.4 V549.0 H103.1 V552.5 H103.7 V555.9 H104.3 V560.5 H105.0 V565.0 H105.6 V570.0 H106.2 V575.0 H107.2 V578.8 H108.1 V582.5 H109.1 V586.2 H110.0 V590.0 H110.9 V593.8 H111.9 V597.5 H112.8 V601.2 H113.8 V605.0 H114.7 V606.9 H115.6 V608.8 H116.6 V610.6 H117.5 V612.5 H118.3 V614.2 H119.2 V615.8 H120.0 V617.5 H121.1 V617.7 H122.1 V617.9 H123.2 V618.0 H124.3 V618.2 H125.4 V618.4 H126.4 V618.6 H127.5 V618.8 H128.6 V619.1 H129.6 V619.4 H130.7 V619.7 H131.8 V620.0 H132.9 V620.4 H133.9 V620.7 H135.0 V621.0 H136.0 V621.1 H137.0 V621.2 H138.0 V621.3 H139.0 V621.4 H140.0 V621.5 H141.0 V621.2 H142.0 V620.9 H143.0 V620.6 H144.0 V620.3 H145.0 V620.0 H146.0 V619.2 H147.0 V618.3 H148.0 V617.5 H149.0 V618.8 H150.0 V620.0 H151.0 V620.5 H152.0 V621.0"/>
<path class="tail" d="M152.0 620.5 H153.5 V621.1 H155.0 V621.4 H156.5 V620.9 H158.0 V620.5 H159.7 V620.8 H161.3 V620.2 H163.0 V620.1 H164.5 V620.2 H166.0 V618.9 H168.0 V618.0 H170.0 V619.7 H172.0 V620.9 H174.0 V617.6 H176.0 V618.3 H178.0 V619.6 H180.0 V620.7 H181.5 V619.9 H183.0 V618.4 H185.0 V618.8 H186.5 V618.8 H188.0 V620.5 H190.0 V620.1 H192.0 V621.1 H194.0 V622.4 H196.0 V623.3 H198.0 V625.0"/>
<path class="axis" d="M44.4 464.8 V625.7 H232.9"/>
<path d="M194.4 624.7 H232.9" stroke="#000" stroke-width="1.6" stroke-dasharray="1.5 2.5" fill="none"/>
<path class="tick" d="M40.8 465.3 H44.4"/>
<path class="tick" d="M40.8 505.4 H44.4"/>
<path class="tick" d="M40.8 545.5 H44.4"/>
<path class="tick" d="M40.8 585.6 H44.4"/>
<path class="tick" d="M40.8 625.7 H44.4"/>
<path class="tick" d="M44.4 625.7 V627.9"/>
<path class="tick" d="M91.5 625.7 V627.9"/>
<path class="tick" d="M138.7 625.7 V627.9"/>
<path class="tick" d="M185.8 625.7 V627.9"/>
<path class="tick" d="M232.9 620.7 V627.5"/>
<text class="tk" transform="translate(44.9 637.7) scale(1.42 1)" text-anchor="middle">10</text>
<text class="ex" transform="translate(55.3 633.0) scale(1.3 1)">0</text>
<text class="tk" transform="translate(92.0 637.7) scale(1.42 1)" text-anchor="middle">10</text>
<text class="ex" transform="translate(102.4 633.0) scale(1.3 1)">1</text>
<text class="tk" transform="translate(139.2 637.7) scale(1.42 1)" text-anchor="middle">10</text>
<text class="ex" transform="translate(149.6 633.0) scale(1.3 1)">2</text>
<text class="tk" transform="translate(186.3 637.7) scale(1.42 1)" text-anchor="middle">10</text>
<text class="ex" transform="translate(196.7 633.0) scale(1.3 1)">3</text>
<text class="tk" transform="translate(233.9 637.7) scale(1.42 1)" text-anchor="middle">10</text>
<text class="ex" transform="translate(244.3 633.0) scale(1.3 1)">4</text>
<text class="yl" transform="translate(35.9 465.5) rotate(-90) scale(0.63 1)" text-anchor="middle">45</text>
<text class="yl" transform="translate(35.1 626.7) rotate(-90) scale(0.63 1)" text-anchor="middle">0</text>
<text class="pl" x="22.7" y="451.0">E</text>
<path d="M148.0 467.6 H171.1" stroke="#000" stroke-width="2.5" stroke-dasharray="3.21 1.76" fill="none"/>
<rect x="148.45" y="478.65" width="23.50" height="4.40" rx="0.7" fill="#c4c4c4" stroke="#000" stroke-width="1.9"/>
<path d="M148.0 501.9 H172.3" stroke="#000" stroke-width="3.1" fill="none"/>
<text class="leg" x="178.4" y="470.3" textLength="68.2" lengthAdjust="spacingAndGlyphs">cells alone</text>
<text class="leg" x="176.8" y="487.4" textLength="61.2" lengthAdjust="spacingAndGlyphs">FITC-FXII</text>
<text class="leg" x="177.3" y="505.2" textLength="56.2" lengthAdjust="spacingAndGlyphs">goat IgG</text>
</g>
<g id="panel-F">
<polygon points="318.0,625.8 318.0,625.1 319.3,625.1 319.3,624.9 320.6,624.9 320.6,624.7 321.9,624.7 321.9,624.4 323.1,624.4 323.1,624.2 324.4,624.2 324.4,624.0 325.7,624.0 325.7,623.8 326.9,623.8 326.9,622.9 328.1,622.9 328.1,621.9 329.3,621.9 329.3,621.0 330.5,621.0 330.5,620.1 331.7,620.1 331.7,618.9 332.9,618.9 332.9,617.7 334.1,617.7 334.1,616.5 335.3,616.5 335.3,615.3 336.3,615.3 336.3,612.7 337.2,612.7 337.2,610.2 338.2,610.2 338.2,607.6 339.2,607.6 339.2,604.3 340.1,604.3 340.1,601.1 341.1,601.1 341.1,597.8 342.1,597.8 342.1,592.1 343.0,592.1 343.0,586.4 344.0,586.4 344.0,571.0 344.9,571.0 344.9,563.3 345.9,563.3 345.9,555.6 346.9,555.6 346.9,549.8 347.8,549.8 347.8,544.1 348.8,544.1 348.8,539.3 349.7,539.3 349.7,534.5 350.4,534.5 350.4,532.1 351.1,532.1 351.1,529.7 352.5,529.7 352.5,522.0 353.2,522.0 353.2,518.6 354.0,518.6 354.0,515.3 354.5,515.3 354.5,500.8 355.3,500.8 355.3,500.3 355.7,500.3 355.7,483.1 356.7,483.1 356.7,483.8 357.4,483.8 357.4,488.3 357.8,488.3 357.8,500.8 358.3,500.8 358.3,512.4 358.9,512.4 358.9,512.4 359.3,512.4 359.3,504.7 360.7,504.7 360.7,498.8 361.4,498.8 361.4,498.4 362.2,498.4 362.2,498.0 363.3,498.0 363.3,498.8 363.8,498.8 363.8,489.8 364.8,489.8 364.8,489.8 365.5,489.8 365.5,500.8 366.0,500.8 366.0,515.3 367.0,515.3 367.0,517.2 367.3,517.2 367.3,523.8 368.1,523.8 368.1,523.8 368.7,523.8 368.7,511.8 369.7,511.8 369.7,512.8 370.3,512.8 370.3,523.8 371.1,523.8 371.1,524.3 371.8,524.3 371.8,524.8 372.3,524.8 372.3,531.6 373.7,531.6 373.7,532.6 374.2,532.6 374.2,536.8 374.9,536.8 374.9,543.3 375.7,543.3 375.7,549.8 376.6,549.8 376.6,552.7 377.5,552.7 377.5,555.6 378.5,555.6 378.5,567.2 379.5,567.2 379.5,571.7 380.5,571.7 380.5,576.1 381.5,576.1 381.5,580.6 382.5,580.6 382.5,585.4 383.5,585.4 383.5,590.3 384.4,590.3 384.4,594.1 385.4,594.1 385.4,598.0 386.3,598.0 386.3,601.8 387.3,601.8 387.3,605.0 388.2,605.0 388.2,608.2 389.2,608.2 389.2,611.4 390.2,611.4 390.2,613.3 391.1,613.3 391.1,615.3 392.1,615.3 392.1,617.2 393.3,617.2 393.3,617.9 394.5,617.9 394.5,618.6 395.7,618.6 395.7,619.4 396.9,619.4 396.9,620.1 398.0,620.1 398.0,620.4 399.1,620.4 399.1,620.6 400.3,620.6 400.3,620.9 401.4,620.9 401.4,621.1 402.5,621.1 402.5,621.4 403.8,621.4 403.8,621.5 405.2,621.5 405.2,621.5 406.5,621.5 406.5,621.6 408.2,621.6 408.2,621.7 409.8,621.7 409.8,623.2 411.5,623.2 411.5,622.4 413.2,622.4 413.2,623.0 414.8,623.0 414.8,622.2 416.5,622.2 416.5,621.1 418.2,621.1 418.2,622.5 419.8,622.5 419.8,621.9 421.5,621.9 421.5,623.2 423.2,623.2 423.2,622.1 424.8,622.1 424.8,621.9 426.5,621.9 426.5,622.3 428.2,622.3 428.2,623.4 429.8,623.4 429.8,622.1 431.5,622.1 431.5,622.5 433.2,622.5 433.2,623.1 434.8,623.1 434.8,623.6 436.5,623.6 436.5,622.5 438.2,622.5 438.2,621.8 439.8,621.8 439.8,622.9 441.5,622.9 441.5,620.6 443.2,620.6 443.2,622.1 444.8,622.1 444.8,620.5 446.5,620.5 446.5,619.8 448.2,619.8 448.2,619.6 449.8,619.6 449.8,619.9 451.5,619.9 451.5,620.9 453.2,620.9 453.2,619.9 454.8,619.9 454.8,621.2 456.5,621.2 456.5,621.7 458.5,621.7 458.5,622.0 460.5,622.0 460.5,623.2 462.5,623.2 462.5,623.2 464.5,623.2 464.5,625.3 464.5,625.8" fill="#b7b7b7" stroke="none"/>
<path class="thin" d="M318.0 625.1 H319.3 V624.9 H320.6 V624.7 H321.9 V624.4 H323.1 V624.2 H324.4 V624.0 H325.7 V623.8 H326.9 V622.9 H328.1 V621.9 H329.3 V621.0 H330.5 V620.1 H331.7 V618.9 H332.9 V617.7 H334.1 V616.5 H335.3 V615.3 H336.3 V612.7 H337.2 V610.2 H338.2 V607.6 H339.2 V604.3 H340.1 V601.1 H341.1 V597.8 H342.1 V592.1 H343.0 V586.4 H344.0 V571.0 H344.9 V563.3 H345.9 V555.6 H346.9 V549.8 H347.8 V544.1 H348.8 V539.3 H349.7 V534.5 H350.4 V532.1 H351.1 V529.7 H352.5 V522.0 H353.2 V518.6 H354.0 V515.3 H354.5 V500.8 H355.3 V500.3 H355.7 V483.1 H356.7 V483.8 H357.4 V488.3 H357.8 V500.8 H358.3 V512.4 H358.9 V512.4 H359.3 V504.7 H360.7 V498.8 H361.4 V498.4 H362.2 V498.0 H363.3 V498.8 H363.8 V489.8 H364.8 V489.8 H365.5 V500.8 H366.0 V515.3 H367.0 V517.2 H367.3 V523.8 H368.1 V523.8 H368.7 V511.8 H369.7 V512.8 H370.3 V523.8 H371.1 V524.3 H371.8 V524.8 H372.3 V531.6 H373.7 V532.6 H374.2 V536.8 H374.9 V543.3 H375.7 V549.8 H376.6 V552.7 H377.5 V555.6 H378.5 V567.2 H379.5 V571.7 H380.5 V576.1 H381.5 V580.6 H382.5 V585.4 H383.5 V590.3 H384.4 V594.1 H385.4 V598.0 H386.3 V601.8 H387.3 V605.0 H388.2 V608.2 H389.2 V611.4 H390.2 V613.3 H391.1 V615.3 H392.1 V617.2 H393.3 V617.9 H394.5 V618.6 H395.7 V619.4 H396.9 V620.1 H398.0 V620.4 H399.1 V620.6 H400.3 V620.9 H401.4 V621.1 H402.5 V621.4 H403.8 V621.5 H405.2 V621.5 H406.5 V621.6"/>
<path class="tail" d="M406.5 621.6 H408.2 V621.7 H409.8 V623.2 H411.5 V622.4 H413.2 V623.0 H414.8 V622.2 H416.5 V621.1 H418.2 V622.5 H419.8 V621.9 H421.5 V623.2 H423.2 V622.1 H424.8 V621.9 H426.5 V622.3 H428.2 V623.4 H429.8 V622.1 H431.5 V622.5 H433.2 V623.1 H434.8 V623.6 H436.5 V622.5 H438.2 V621.8 H439.8 V622.9 H441.5 V620.6 H443.2 V622.1 H444.8 V620.5 H446.5 V619.8 H448.2 V619.6 H449.8 V619.9 H451.5 V620.9 H453.2 V619.9 H454.8 V621.2 H456.5 V621.7 H458.5 V622.0 H460.5 V623.2 H462.5 V623.2 H464.5 V625.3"/>
<polyline class="dash" points="312.5,624.3 312.9,618.1 314.1,609.2 315.4,601.6 317.3,591.4 318.6,572.3 319.8,555.6 320.1,542.2 320.7,530.8 323.0,522.8 324.8,514.8 325.4,506.8 325.5,498.8 327.0,491.8 328.7,486.4 330.1,491.8 328.9,497.3 332.0,499.3 332.8,503.8 333.1,516.8 333.5,526.8 335.3,533.8 336.2,544.8 337.1,556.3 337.7,560.8 339.6,566.8 340.3,578.6 341.5,588.8 342.8,597.8 344.7,605.4 346.6,613.0 349.2,618.1 352.4,621.3 357.5,623.2 362.5,624.5"/>
<path class="thick" d="M316.0 624.8 H317.0 V624.5 H318.0 V624.3 H319.0 V624.0 H320.0 V623.8 H321.0 V622.9 H322.1 V622.1 H323.1 V621.2 H324.2 V620.4 H325.2 V619.6 H326.2 V618.8 H327.2 V617.2 H328.1 V615.6 H329.1 V614.1 H330.0 V612.5 H330.8 V609.2 H331.7 V605.8 H332.5 V602.5 H333.4 V598.8 H334.4 V595.0 H335.3 V591.2 H336.2 V587.5 H337.3 V582.3 H338.4 V577.2 H339.5 V572.0 H340.5 V568.7 H341.5 V565.3 H342.5 V562.0 H343.5 V556.2 H344.5 V550.5 H345.3 V556.0 H346.0 V538.3 H346.7 V548.0 H347.4 V532.0 H348.0 V529.0 H348.6 V540.0 H349.2 V520.0 H349.8 V538.0 H350.4 V515.4 H351.0 V505.3 H351.6 V536.0 H352.2 V508.0 H352.8 V533.0 H353.4 V500.0 H354.0 V520.0 H354.6 V497.0 H355.2 V514.0 H355.8 V483.0 H356.5 V512.0 H357.2 V490.0 H357.9 V514.0 H358.6 V497.0 H359.3 V514.0 H360.0 V498.0 H360.7 V513.0 H361.4 V499.0 H362.1 V514.0 H362.8 V500.0 H363.5 V516.0 H364.2 V530.0 H364.9 V522.0 H365.6 V545.0 H366.3 V533.0 H367.0 V552.0 H367.7 V540.0 H368.4 V558.0 H369.1 V547.0 H369.8 V562.0 H370.5 V555.0 H371.5 V566.0 H372.6 V569.2 H373.8 V572.5 H374.6 V577.5 H375.4 V582.5 H376.2 V587.5 H377.2 V591.2 H378.1 V595.0 H379.1 V598.8 H380.0 V602.5 H380.9 V605.0 H381.9 V607.5 H382.8 V610.0 H383.8 V612.5 H384.7 V613.8 H385.6 V615.0 H386.6 V616.2 H387.5 V617.5 H388.5 V618.2 H389.5 V618.9 H390.5 V619.6 H391.5 V620.3 H392.5 V621.0 H393.6 V621.0 H394.6 V621.0 H395.7 V621.0 H396.8 V621.0 H397.9 V621.0 H398.9 V621.0 H400.0 V621.0"/>
<path class="tail" d="M400.0 620.7 H401.5 V619.9 H403.0 V619.6 H404.5 V619.7 H406.0 V619.4 H407.5 V619.7 H409.0 V619.3 H410.5 V621.1 H412.0 V620.8 H413.5 V620.1 H415.0 V620.5 H416.8 V620.4 H418.5 V620.2 H420.2 V619.5 H422.0 V620.7 H423.6 V620.9 H425.2 V619.7 H426.8 V619.7 H428.4 V618.8 H430.0 V618.7 H432.0 V618.7 H434.0 V618.0 H436.0 V618.7 H438.0 V615.3 H440.0 V613.7 H442.0 V618.9 H443.0 V619.1 H445.0 V616.8 H447.0 V617.1 H449.0 V618.1 H450.0 V619.6 H451.7 V620.6 H453.3 V620.6 H455.0 V620.4 H456.7 V620.2 H458.3 V621.1 H460.0 V621.3 H462.0 V623.9 H464.0 V624.8"/>
<path class="axis" d="M311.5 464.9 V625.8 H500.0"/>
<path d="M461.5 624.8 H500.0" stroke="#000" stroke-width="1.6" stroke-dasharray="1.5 2.5" fill="none"/>
<path class="tick" d="M307.9 465.4 H311.5"/>
<path class="tick" d="M307.9 505.5 H311.5"/>
<path class="tick" d="M307.9 545.6 H311.5"/>
<path class="tick" d="M307.9 585.7 H311.5"/>
<path class="tick" d="M307.9 625.8 H311.5"/>
<path class="tick" d="M311.5 625.8 V628.0"/>
<path class="tick" d="M358.6 625.8 V628.0"/>
<path class="tick" d="M405.8 625.8 V628.0"/>
<path class="tick" d="M452.9 625.8 V628.0"/>
<path class="tick" d="M500.0 620.8 V627.6"/>
<text class="tk" transform="translate(312.0 637.8) scale(1.42 1)" text-anchor="middle">10</text>
<text class="ex" transform="translate(322.4 633.1) scale(1.3 1)">0</text>
<text class="tk" transform="translate(359.1 637.8) scale(1.42 1)" text-anchor="middle">10</text>
<text class="ex" transform="translate(369.5 633.1) scale(1.3 1)">1</text>
<text class="tk" transform="translate(406.2 637.8) scale(1.42 1)" text-anchor="middle">10</text>
<text class="ex" transform="translate(416.6 633.1) scale(1.3 1)">2</text>
<text class="tk" transform="translate(453.4 637.8) scale(1.42 1)" text-anchor="middle">10</text>
<text class="ex" transform="translate(463.8 633.1) scale(1.3 1)">3</text>
<text class="tk" transform="translate(501.0 637.8) scale(1.42 1)" text-anchor="middle">10</text>
<text class="ex" transform="translate(511.4 633.1) scale(1.3 1)">4</text>
<text class="yl" transform="translate(303.0 465.6) rotate(-90) scale(0.63 1)" text-anchor="middle">45</text>
<text class="yl" transform="translate(302.2 626.8) rotate(-90) scale(0.63 1)" text-anchor="middle">0</text>
<text class="pl" x="291.0" y="451.0">F</text>
<path d="M406.3 467.6 H431.1" stroke="#000" stroke-width="2.5" stroke-dasharray="3.44 1.89" fill="none"/>
<rect x="406.95" y="478.65" width="23.50" height="4.40" rx="0.7" fill="#c4c4c4" stroke="#000" stroke-width="1.9"/>
<path d="M406.3 501.4 H431.7" stroke="#000" stroke-width="3.1" fill="none"/>
<text class="leg" x="436.2" y="469.6" textLength="67.7" lengthAdjust="spacingAndGlyphs">cells alone</text>
<text class="leg" x="435.8" y="487.0" textLength="61.2" lengthAdjust="spacingAndGlyphs">FITC-FXII</text>
<text class="leg" x="434.5" y="503.7" textLength="67.0" lengthAdjust="spacingAndGlyphs">mouse IgG</text>
</g>
<g id="ylabel">
<path d="M7.6 259 V209" stroke="#000" stroke-width="2.4" fill="none"/>
<polygon points="7.6,195 14.2,211 1.0,211" fill="#000"/>
<text class="ax" x="7.6" y="285.2" text-anchor="middle">C</text>
<text class="ax" x="7.6" y="303.0" text-anchor="middle">E</text>
<text class="ax" x="7.6" y="320.6" text-anchor="middle">L</text>
<text class="ax" x="7.6" y="336.8" text-anchor="middle">L</text>
<text class="ax" x="7.6" y="368.4" text-anchor="middle">N</text>
<text class="ax" x="7.6" y="383.6" text-anchor="middle">U</text>
<text class="ax" x="7.6" y="400.4" text-anchor="middle">M</text>
<text class="ax" x="7.6" y="416.2" text-anchor="middle">B</text>
<text class="ax" x="7.6" y="432.2" text-anchor="middle">E</text>
<text class="ax" x="7.6" y="448.0" text-anchor="middle">R</text>
</g>
<g id="xlabel">
<text class="ax" x="103" y="663.8" textLength="206" lengthAdjust="spacingAndGlyphs">FLUORESCENCE INTENSITY</text>
<path d="M324.5 659.2 H394" stroke="#000" stroke-width="2.4" fill="none"/>
<polygon points="407.5,659.2 392,652.8 392,665.6" fill="#000"/>
</g>
</svg>
</body></html>
